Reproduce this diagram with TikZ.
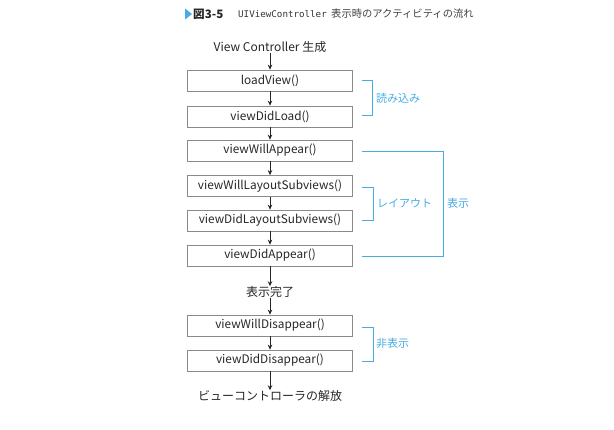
\documentclass[tikz,border=0pt]{standalone}
\usepackage{fontspec}
\setmainfont{Noto Sans CJK JP}
\newfontfamily\monof{DejaVu Sans Mono}
\usetikzlibrary{arrows.meta}
\definecolor{bl}{HTML}{45ACE4}
\definecolor{bxline}{HTML}{8A8A8A}
\begin{document}
\begin{tikzpicture}[x=1pt,y=-1pt,
  fn/.style={draw=bxline,line width=0.7pt,minimum width=165pt,minimum height=21pt,inner sep=0pt,font=\fontsize{11.8}{13}\selectfont,text=black!85},
  lbl/.style={inner sep=0pt,font=\fontsize{12}{13}\selectfont,text=black!85},
  ar/.style={-{Stealth[length=5pt,width=4.5pt]},line width=0.9pt,black!85},
  br/.style={draw=bl,line width=0.7pt},
  bt/.style={inner sep=0pt,anchor=west,text=bl,font=\fontsize{11}{12}\selectfont}]
\useasboundingbox (0,0) rectangle (614,429);
% title
\fill[bl] (185,8.5) -- (192,14) -- (185,19.5) -- cycle;
\node[anchor=west,inner sep=0pt,font=\fontsize{11.6}{12}\selectfont\bfseries,text=black!85] (fig) at (193,14) {図3-5};
\node[anchor=west,inner sep=0pt,font=\fontsize{9.2}{10}\monof,text=black!80] (cls) at (238,14) {UIViewController};
\node[anchor=west,inner sep=0pt,font=\fontsize{10.3}{12}\selectfont,text=black!75] (ttl) at (331,14) {表示時のアクティビティの流れ};
% nodes
\node[lbl] (start) at (270,47) {View Controller 生成};
\node[fn] (lv) at (270,80.5) {loadView()};
\node[fn] (vdl) at (270,116.5) {viewDidLoad()};
\node[fn] (vwa) at (270,150.5) {viewWillAppear()};
\node[fn] (vwls) at (270,186) {viewWillLayoutSubviews()};
\node[fn] (vdls) at (270,220.5) {viewDidLayoutSubviews()};
\node[fn] (vda) at (270,255.5) {viewDidAppear()};
\node[lbl] (done) at (270,292) {表示完了};
\node[fn] (vwd) at (270,325.5) {viewWillDisappear()};
\node[fn] (vdd) at (270,360.5) {viewDidDisappear()};
\node[lbl] (rel) at (270,396) {ビューコントローラの解放};
% arrows
\draw[ar] (start) -- (lv);
\draw[ar] (lv) -- (vdl);
\draw[ar] (vdl) -- (vwa);
\draw[ar] (vwa) -- (vwls);
\draw[ar] (vwls) -- (vdls);
\draw[ar] (vdls) -- (vda);
\draw[ar] (vda) -- (done);
\draw[ar] (done) -- (vwd);
\draw[ar] (vwd) -- (vdd);
\draw[ar] (vdd) -- (rel);
% brackets
\draw[br] (362,80) -- (372,80) -- (372,115) -- (362,115);
\node[bt] (t1) at (376,98) {読み込み};
\draw[br] (362,151) -- (443,151) -- (443,256) -- (362,256);
\node[bt] (t2) at (447,203) {表示};
\draw[br] (362,187) -- (373,187) -- (373,220) -- (362,220);
\node[bt] (t3) at (377,203) {レイアウト};
\draw[br] (362,327) -- (373,327) -- (373,361) -- (362,361);
\node[bt] (t4) at (376,343) {非表示};
\end{tikzpicture}
\end{document}
